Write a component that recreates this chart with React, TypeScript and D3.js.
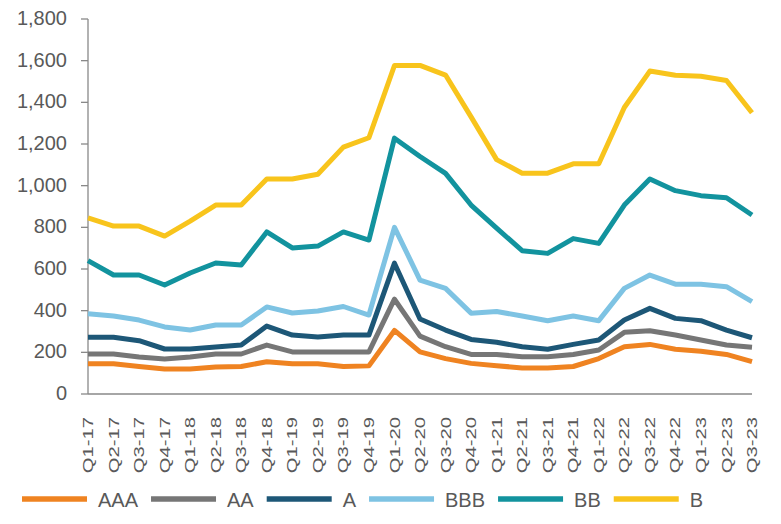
import React from "react";
import * as d3 from "d3";

const categories = [
  "Q1-17", "Q2-17", "Q3-17", "Q4-17", "Q1-18", "Q2-18", "Q3-18", "Q4-18",
  "Q1-19", "Q2-19", "Q3-19", "Q4-19", "Q1-20", "Q2-20", "Q3-20", "Q4-20",
  "Q1-21", "Q2-21", "Q3-21", "Q4-21", "Q1-22", "Q2-22", "Q3-22", "Q4-22",
  "Q1-23", "Q2-23", "Q3-23",
];

const AAA = [145, 145, 132, 120, 120, 130, 132, 155, 145, 145, 132, 135, 305, 202, 170, 147, 136, 125, 125, 132, 170, 227, 238, 215, 205, 190, 155];
const AA = [192, 192, 178, 168, 178, 192, 192, 235, 202, 202, 202, 202, 455, 278, 227, 190, 190, 179, 179, 190, 211, 296, 304, 283, 259, 235, 224];
const A = [272, 272, 256, 216, 216, 226, 235, 326, 283, 274, 283, 283, 628, 360, 307, 262, 248, 227, 215, 238, 259, 355, 411, 363, 352, 307, 270];
const BBB = [385, 374, 355, 322, 307, 331, 331, 418, 389, 398, 420, 379, 800, 547, 507, 388, 396, 374, 352, 374, 352, 507, 571, 527, 527, 515, 443];
const BB = [640, 571, 571, 523, 581, 629, 619, 778, 701, 710, 778, 739, 1228, 1140, 1059, 907, 796, 688, 675, 746, 723, 907, 1032, 976, 952, 942, 859];
const B = [845, 806, 806, 758, 830, 907, 907, 1032, 1032, 1055, 1185, 1230, 1577, 1577, 1531, 1330, 1125, 1060, 1060, 1105, 1105, 1375, 1550, 1530, 1525, 1505, 1350];

const seriesNames = ["AAA", "AA", "A", "BBB", "BB", "B"];
const seriesValues = [AAA, AA, A, BBB, BB, B];
const seriesColors = ["#EF8321", "#767676", "#1D5777", "#7EC3E3", "#12939E", "#F8C41C"];

const yTicks = [0, 200, 400, 600, 800, 1000, 1200, 1400, 1600, 1800];

const W = 781;
const H = 524;
const FONT = "'Liberation Sans', Arial, sans-serif";
const TEXT = "#595959";
const AXIS = "#898989";

export default function App() {
  const x = d3.scalePoint<string>().domain(categories).range([88, 752]);
  const y = d3.scaleLinear().domain([0, 1800]).range([394, 19]);
  const fmt = d3.format(",");
  const line = d3
    .line<number>()
    .x((_, i) => x(categories[i]) as number)
    .y((d) => y(d));

  // legend layout
  const legendStart = 22;
  const lineLen = 65;
  const textOff = 76;
  const gap = 13;
  const charW = 13.34;
  const legendItems: { name: string; color: string; x: number }[] = [];
  let cx = legendStart;
  seriesNames.forEach((name, i) => {
    legendItems.push({ name, color: seriesColors[i], x: cx });
    cx += textOff + name.length * charW + gap;
  });

  return (
    <svg
      width={W}
      height={H}
      style={{ position: "absolute", left: 0, top: 0, background: "#fff" }}
      fontFamily={FONT}
    >
      {/* y axis */}
      <line x1={88} x2={88} y1={y(1800)} y2={y(0)} stroke={AXIS} strokeWidth={1.3} />
      {yTicks.map((t) => (
        <g key={t}>
          <line x1={81} x2={88} y1={y(t)} y2={y(t)} stroke={AXIS} strokeWidth={1.3} />
          <text x={67} y={y(t) + 6} textAnchor="end" fontSize={20} fill={TEXT}>
            {fmt(t)}
          </text>
        </g>
      ))}
      {/* x axis */}
      <line x1={88} x2={752} y1={y(0)} y2={y(0)} stroke={AXIS} strokeWidth={1.3} />
      {categories.map((c) => (
        <text
          key={c}
          transform={`translate(${x(c)},417) rotate(-90) scale(1.35,1)`}
          textAnchor="end"
          dominantBaseline="central"
          fontSize={15}
          fill={TEXT}
        >
          {c}
        </text>
      ))}
      {/* lines */}
      {seriesValues.map((vals, i) => (
        <path
          key={seriesNames[i]}
          d={line(vals) || ""}
          fill="none"
          stroke={seriesColors[i]}
          strokeWidth={5}
          strokeLinejoin="round"
        />
      ))}
      {/* legend */}
      {legendItems.map((it) => (
        <g key={it.name}>
          <line
            x1={it.x}
            x2={it.x + lineLen}
            y1={499}
            y2={499}
            stroke={it.color}
            strokeWidth={5.5}
          />
          <text x={it.x + textOff} y={507} fontSize={20} fill={TEXT}>
            {it.name}
          </text>
        </g>
      ))}
    </svg>
  );
}
